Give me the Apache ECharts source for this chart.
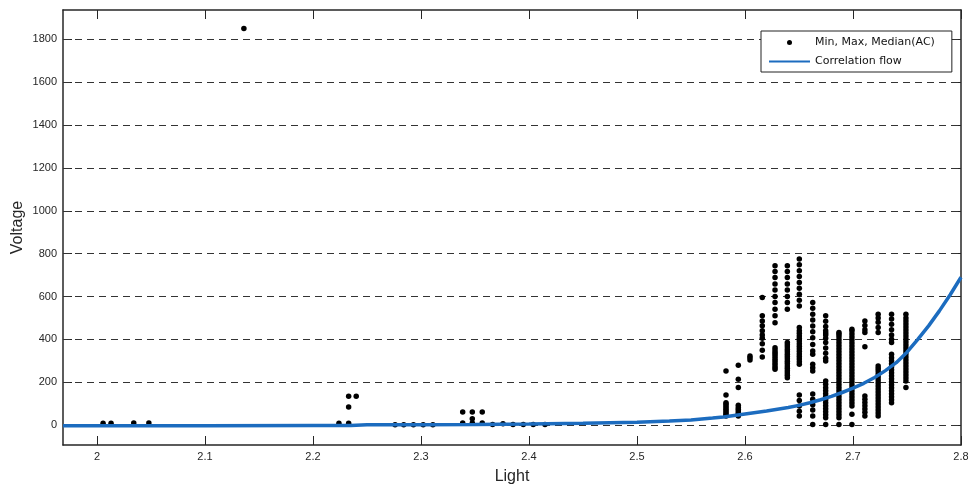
<!DOCTYPE html>
<html>
<head>
<meta charset="utf-8">
<script src="https://cdn.jsdelivr.net/npm/echarts@6/dist/echarts.min.js"></script>
<style>
html,body{margin:0;padding:0;background:#fff;}
#chart{width:968px;height:488px;}
</style>
</head>
<body>
<div id="chart"></div>
<script>
// Tick labels
const xTicks = [2, 2.1, 2.2, 2.3, 2.4, 2.5, 2.6, 2.7, 2.8];
const yTicks = [0, 200, 400, 600, 800, 1000, 1200, 1400, 1600, 1800];

// Scatter: light level of each column and the voltages measured there
const columnX = [2.0056, 2.013, 2.034, 2.048, 2.136, 2.224, 2.233, 2.240, 2.276, 2.284, 2.293, 2.302, 2.311,
  2.3386, 2.3475, 2.3567, 2.3663, 2.3759, 2.3852, 2.3947, 2.4039, 2.4148,
  2.5824, 2.5938, 2.6046, 2.616, 2.6278, 2.6392, 2.6503, 2.6627, 2.6747, 2.687, 2.699, 2.711, 2.7233, 2.7357, 2.749];
const columnVoltages = [
  [8], [8], [10], [10], [1851], [8], [8, 84, 135], [135], [2], [2], [2], [2], [2],
  [10, 61], [10, 30, 61], [10, 61], [3], [6], [3], [3], [3], [3],
  [42, 50, 58, 66, 74, 82, 90, 98, 104, 140, 252],
  [42, 50, 58, 66, 74, 82, 93, 175, 214, 279],
  [304, 314, 322],
  [318, 349, 380, 405, 420, 440, 463, 486, 510, 595],
  [260, 270, 280, 290, 300, 310, 320, 330, 340, 350, 361, 478, 510, 541, 572, 600, 630, 658, 689, 717, 743],
  [221, 232, 243, 254, 265, 276, 287, 298, 309, 320, 331, 342, 353, 364, 375, 385, 541, 572, 600, 630, 658, 689, 717, 743],
  [42, 65, 89, 115, 140, 284, 296, 308, 320, 332, 344, 356, 368, 380, 392, 404, 416, 428, 440, 455, 556, 582, 610, 638, 665, 693, 720, 748, 775],
  [3, 42, 70, 95, 120, 145, 252, 268, 284, 330, 346, 376, 407, 435, 462, 490, 517, 545, 572],
  [3, 34, 48, 62, 76, 90, 104, 118, 132, 146, 160, 174, 190, 206, 299, 312, 335, 360, 385, 405, 420, 430, 440, 460, 485, 510],
  [3, 34, 48, 62, 76, 90, 104, 118, 132, 146, 160, 174, 188, 202, 216, 230, 244, 258, 272, 286, 300, 314, 328, 342, 356, 370, 384, 398, 412, 424, 432],
  [3, 50, 89, 103, 117, 131, 145, 159, 173, 187, 201, 215, 229, 243, 257, 271, 285, 299, 313, 327, 341, 355, 369, 383, 397, 411, 425, 439, 447],
  [42, 60, 75, 90, 105, 120, 136, 365, 432, 445, 465, 486],
  [42, 56, 70, 84, 98, 112, 126, 140, 154, 168, 182, 196, 210, 224, 238, 252, 264, 276, 432, 455, 480, 500, 517],
  [104, 118, 132, 146, 160, 174, 188, 202, 216, 230, 244, 258, 272, 286, 300, 314, 330, 385, 400, 420, 445, 470, 495, 517],
  [175, 206, 220, 234, 248, 262, 276, 290, 304, 318, 332, 346, 360, 374, 388, 402, 416, 430, 444, 458, 472, 486, 500, 517]
];

// Correlation flow curve
const flowX = [1.9685, 2.0, 2.1, 2.2, 2.235, 2.25, 2.3, 2.35, 2.4, 2.45, 2.5, 2.53, 2.55, 2.57, 2.58, 2.6, 2.62, 2.64, 2.65, 2.66, 2.67, 2.68, 2.69, 2.70, 2.71, 2.72, 2.73, 2.74, 2.75, 2.76, 2.77, 2.78, 2.79, 2.80];
const flowY = [-3, -3, -3, -2, -2, 1, 2, 3, 5, 8, 13, 19, 24, 33, 38, 52, 66, 82, 92, 104, 118, 134, 152, 172, 195, 222, 254, 291, 340, 400, 463, 533, 608, 690];

const scatterData = [];
columnX.forEach((x, i) => columnVoltages[i].forEach(v => scatterData.push([x, v])));
const flowData = flowX.map((x, i) => [x, flowY[i]]);

const FONT = 'Liberation Sans';
const INK = '#262626';
const X_MIN = 1.9685, X_MAX = 2.8, Y_MIN = -93, Y_MAX = 1937;

const chart = echarts.init(document.getElementById('chart'));
chart.setOption({
  animation: false,
  backgroundColor: '#fff',
  grid: { left: 63, right: 7, top: 10, bottom: 43, containLabel: false, outerBoundsMode: 'none' },
  legend: {
    orient: 'vertical',
    left: 761, top: 31,
    padding: [6, 17, 5, 7],
    backgroundColor: '#fff',
    borderColor: '#222', borderWidth: 1, borderRadius: 0,
    itemWidth: 41, itemHeight: 5, itemGap: 8, itemTextGap: 5,
    textStyle: { fontFamily: 'DejaVu Sans', fontSize: 11, color: '#111' },
    data: [
      { name: 'Min, Max, Median(AC)', icon: 'circle' },
      { name: 'Correlation flow', itemStyle: { opacity: 0 } }
    ]
  },
  xAxis: [{
    type: 'value', min: X_MIN, max: X_MAX, position: 'bottom',
    name: 'Light', nameLocation: 'middle', nameGap: 24, nameMoveOverlap: false,
    nameTextStyle: { fontFamily: FONT, fontSize: 16, color: INK },
    axisLine: { show: true, onZero: false, lineStyle: { color: INK, width: 1.5 } },
    axisTick: { show: true, inside: true, length: 9, customValues: xTicks, lineStyle: { color: INK } },
    axisLabel: { customValues: xTicks, fontFamily: FONT, fontSize: 11, color: INK, margin: 6,
      formatter: v => String(Math.round(v * 10) / 10) },
    splitLine: { show: false }
  }, {
    type: 'value', min: X_MIN, max: X_MAX, position: 'top',
    axisLine: { show: true, onZero: false, lineStyle: { color: INK, width: 1.5 } },
    axisTick: { show: true, inside: true, length: 9, customValues: xTicks, lineStyle: { color: INK } },
    axisLabel: { show: false },
    splitLine: { show: false }
  }],
  yAxis: [{
    type: 'value', min: Y_MIN, max: Y_MAX, position: 'left',
    name: 'Voltage', nameLocation: 'middle', nameGap: 37, nameMoveOverlap: false,
    nameTextStyle: { fontFamily: FONT, fontSize: 16, color: INK },
    axisLine: { show: true, onZero: false, lineStyle: { color: INK, width: 1.5 } },
    axisTick: { show: true, inside: true, length: 9, customValues: yTicks, lineStyle: { color: INK } },
    axisLabel: { customValues: yTicks, fontFamily: FONT, fontSize: 11, color: INK, margin: 6,
      formatter: v => String(v) },
    splitLine: { show: false }
  }, {
    type: 'value', min: Y_MIN, max: Y_MAX, position: 'right',
    axisLine: { show: true, onZero: false, lineStyle: { color: INK, width: 1.5 } },
    axisTick: { show: true, inside: true, length: 9, customValues: yTicks, lineStyle: { color: INK } },
    axisLabel: { show: false },
    splitLine: { show: false }
  }],
  series: [{
    name: 'Min, Max, Median(AC)',
    type: 'scatter',
    xAxisIndex: 0, yAxisIndex: 0,
    symbol: 'circle', symbolSize: 5.5,
    itemStyle: { color: '#000', opacity: 1 },
    data: scatterData,
    z: 2,
    markLine: {
      silent: true, symbol: 'none', z: 1,
      label: { show: false },
      lineStyle: { color: '#333', width: 1, type: [7, 5] },
      emphasis: { disabled: true },
      data: yTicks.map(v => ({ yAxis: v }))
    }
  }, {
    name: 'Correlation flow',
    type: 'line',
    xAxisIndex: 0, yAxisIndex: 0,
    symbol: 'none', showSymbol: false,
    smooth: false,
    lineStyle: { color: '#1c6cbf', width: 3.5 },
    itemStyle: { color: '#1c6cbf' },
    data: flowData,
    z: 3
  }]
});
</script>
</body>
</html>
